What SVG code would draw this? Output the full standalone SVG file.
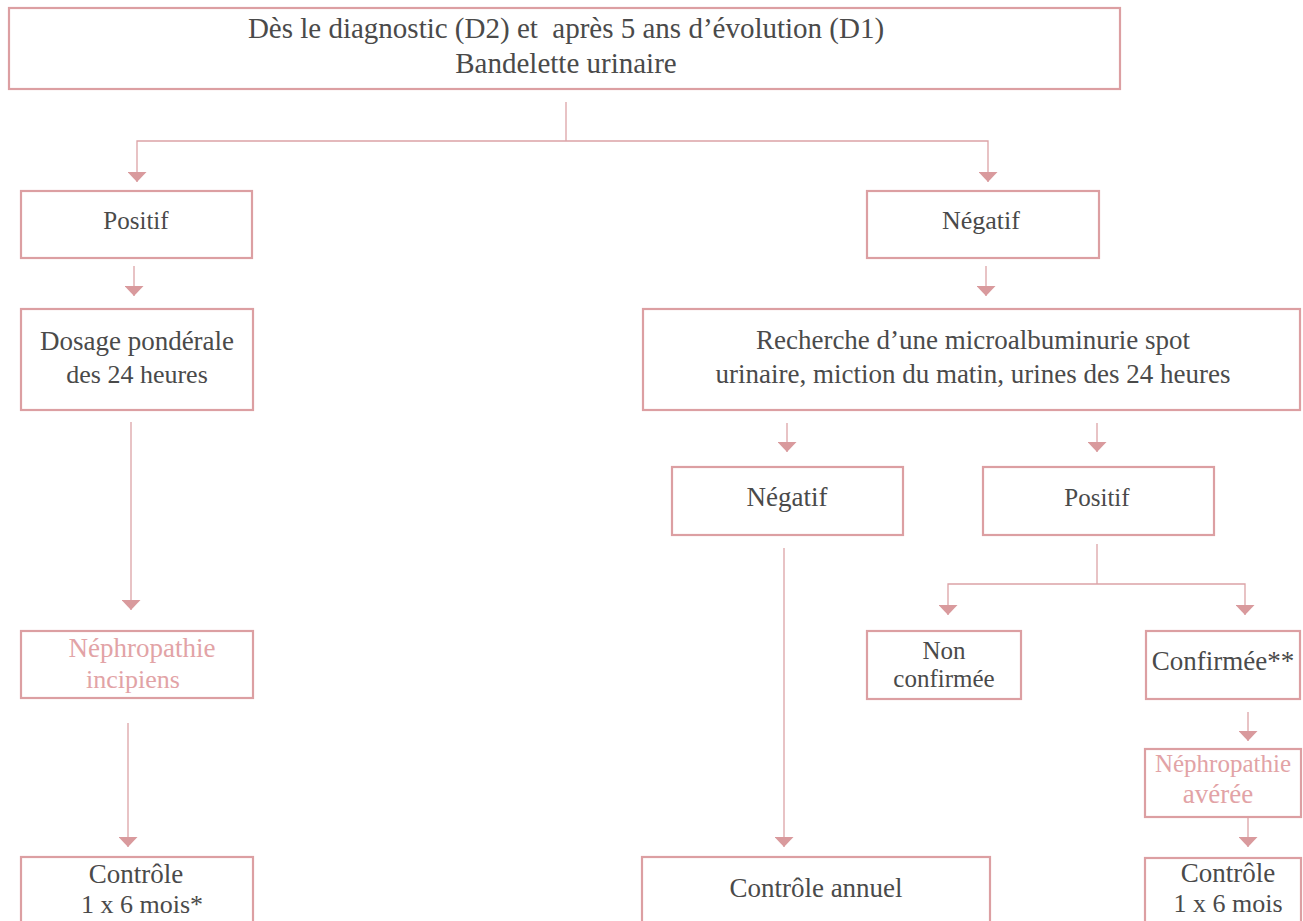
<svg xmlns="http://www.w3.org/2000/svg" width="1303" height="921" viewBox="0 0 1303 921">
<style>
.box{fill:#fff;stroke:#dc9fa2;stroke-width:2.2}
.t{font-family:"Liberation Serif","Times New Roman",serif;font-size:27px;fill:#4a4a4a;text-anchor:middle}
.p{fill:#e2a3a6}
.c{fill:none;stroke:#dca3a6;stroke-width:1.3}
</style>
<defs>
<marker id="ah" viewBox="0 0 10 10" refX="10" refY="5" markerWidth="10" markerHeight="19" markerUnits="userSpaceOnUse" orient="auto-start-reverse" preserveAspectRatio="none">
<path d="M0,0 L10,5 L0,10 z" fill="#d99a9d"/>
</marker>
</defs>
<rect width="1303" height="921" fill="#fff"/>
<g id="connectors">
<line class="c" x1="566" y1="102" x2="566" y2="141" stroke="#c9b3b4"/>
<polyline class="c" points="137,182 137,141 988,141 988,182" marker-start="url(#ah)" marker-end="url(#ah)"/>
<line class="c" x1="134" y1="266" x2="134" y2="296" marker-end="url(#ah)"/>
<line class="c" x1="986" y1="266" x2="986" y2="296" marker-end="url(#ah)"/>
<line class="c" x1="131" y1="422" x2="131" y2="610" marker-end="url(#ah)"/>
<line class="c" x1="128" y1="723" x2="128" y2="847" marker-end="url(#ah)"/>
<line class="c" x1="787" y1="423" x2="787" y2="452" marker-end="url(#ah)"/>
<line class="c" x1="1097" y1="423" x2="1097" y2="452" marker-end="url(#ah)"/>
<line class="c" x1="784" y1="548" x2="784" y2="847" marker-end="url(#ah)"/>
<line class="c" x1="1097" y1="544" x2="1097" y2="584"/>
<polyline class="c" points="948,615 948,584 1245,584 1245,615" marker-start="url(#ah)" marker-end="url(#ah)"/>
<line class="c" x1="1248" y1="712" x2="1248" y2="741" marker-end="url(#ah)"/>
<line class="c" x1="1248" y1="817" x2="1248" y2="847" marker-end="url(#ah)"/>
</g>
<g id="n-top">
<rect class="box" x="9" y="8" width="1111" height="81"/>
<text class="t" x="566" y="38" style="font-size:29px" xml:space="preserve">Dès le diagnostic (D2) et  après 5 ans d’évolution (D1)</text>
<text class="t" x="566" y="73" style="font-size:29px">Bandelette urinaire</text>
</g>
<g id="n-positif">
<rect class="box" x="21" y="191" width="231" height="67"/>
<text class="t" x="136" y="229" style="font-size:25px">Positif</text>
</g>
<g id="n-negatif">
<rect class="box" x="867" y="191" width="232" height="67"/>
<text class="t" x="981" y="229" style="font-size:26px">Négatif</text>
</g>
<g id="n-dosage">
<rect class="box" x="21" y="309" width="232" height="101"/>
<text class="t" x="137" y="350">Dosage pondérale</text>
<text class="t" x="137" y="383" style="font-size:26px">des 24 heures</text>
</g>
<g id="n-recherche">
<rect class="box" x="643" y="309" width="657" height="101"/>
<text class="t" x="973" y="349">Recherche d’une microalbuminurie spot</text>
<text class="t" x="973" y="383">urinaire, miction du matin, urines des 24 heures</text>
</g>
<g id="n-negatif2">
<rect class="box" x="672" y="467" width="231" height="68"/>
<text class="t" x="787" y="506">Négatif</text>
</g>
<g id="n-positif2">
<rect class="box" x="983" y="467" width="231" height="68"/>
<text class="t" x="1097" y="506" style="font-size:25px">Positif</text>
</g>
<g id="n-incipiens">
<rect class="box" x="21" y="631" width="232" height="67"/>
<text class="t p" x="142" y="657">Néphropathie</text>
<text class="t p" x="133" y="688" style="font-size:26px">incipiens</text>
</g>
<g id="n-nonconf">
<rect class="box" x="867" y="631" width="154" height="68"/>
<text class="t" x="944" y="659" style="font-size:25px">Non</text>
<text class="t" x="944" y="687" style="font-size:25px">confirmée</text>
</g>
<g id="n-conf">
<rect class="box" x="1146" y="631" width="154" height="68"/>
<text class="t" x="1223" y="670">Confirmée**</text>
</g>
<g id="n-averee">
<rect class="box" x="1145" y="749" width="156" height="68"/>
<text class="t p" x="1223" y="772" style="font-size:25px">Néphropathie</text>
<text class="t p" x="1218" y="803">avérée</text>
</g>
<g id="n-controle1">
<rect class="box" x="21" y="857" width="232" height="80"/>
<text class="t" x="136" y="883">Contrôle</text>
<text class="t" x="142" y="913" style="font-size:26px">1 x 6 mois*</text>
</g>
<g id="n-annuel">
<rect class="box" x="642" y="857" width="348" height="80"/>
<text class="t" x="816" y="897">Contrôle annuel</text>
</g>
<g id="n-controle2">
<rect class="box" x="1145" y="858" width="156" height="80"/>
<text class="t" x="1228" y="882">Contrôle</text>
<text class="t" x="1228" y="912" style="font-size:26px">1 x 6 mois</text>
</g>
</svg>
